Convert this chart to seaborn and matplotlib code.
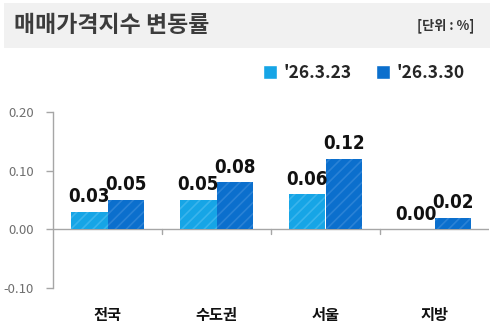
import matplotlib
matplotlib.use("Agg")
import matplotlib.pyplot as plt
import seaborn as sns
import pandas as pd
from matplotlib.patches import Rectangle

categories = ["전국", "수도권", "서울", "지방"]
series_names = ["'26.3.23", "'26.3.30"]
values_0323 = [0.03, 0.05, 0.06, 0.00]
values_0330 = [0.05, 0.08, 0.12, 0.02]
yticks = [-0.10, 0.00, 0.10, 0.20]
ytick_labels = ["-0.10", "0.00", "0.10", "0.20"]

df = pd.DataFrame({
    "region": categories * 2,
    "series": [series_names[0]] * 4 + [series_names[1]] * 4,
    "value": values_0323 + values_0330,
})

sns.set_theme(style="white")
plt.rcParams['font.family'] = ['Noto Sans CJK KR', 'DejaVu Sans']
plt.rcParams['hatch.linewidth'] = 1.2

W, H = 493, 328
fig = plt.figure(figsize=(W / 100, H / 100), dpi=100)

# header panel
fig.patches.append(Rectangle((4 / W, 1 - 48 / H), 486 / W, 45 / H,
                             transform=fig.transFigure, facecolor="#f1f1f1",
                             edgecolor="none", zorder=0))
fig.text(14 / W, 1 - 26 / H, "매매가격지수 변동률", fontsize=16.5, fontweight="bold",
         color="#3c3c3c", ha="left", va="center")
fig.text(474 / W, 1 - 26 / H, "[단위 : %]", fontsize=9.5, fontweight="bold",
         color="#333333", ha="right", va="center")

ax = fig.add_axes([53 / W, 1 - 288 / H, 436 / W, 176 / H])
colors = ["#16a5e6", "#0b6fcd"]
hatch_colors = ["#3ab4ec", "#2a82d6"]
sns.barplot(data=df, x="region", y="value", hue="series", palette=colors,
            width=0.675, ax=ax, legend=True, saturation=1)

for i, cont in enumerate(ax.containers):
    for p in cont:
        p.set_edgecolor(hatch_colors[i])
        p.set_linewidth(0)
        p.set_hatch("///")
    ax.bar_label(cont, fmt="%.2f", padding=4, fontsize=13.5, fontweight="bold",
                 color="#111111", family=['DejaVu Sans'], fontstretch="condensed")

ax.set_ylim(-0.10, 0.20)
ax.set_xlim(-0.5, 3.5)
ax.set_yticks(yticks)
ax.set_yticklabels(ytick_labels)
ax.set_xlabel("")
ax.set_ylabel("")

for s in ["top", "right", "bottom"]:
    ax.spines[s].set_visible(False)
ax.spines["left"].set_color("#a6a6a6")
ax.spines["left"].set_linewidth(1)
ax.axhline(0, color="#a6a6a6", lw=1, zorder=0.5)

ax.tick_params(axis="y", which="both", left=True, length=5, width=1, color="#a6a6a6",
               labelsize=9.5, labelcolor="#6f6f6f", pad=9)
ax.tick_params(axis="x", which="both", bottom=False, labelsize=11, labelcolor="#111111", pad=8)
for t in ax.get_xticklabels():
    t.set_fontweight("bold")

# category boundary ticks on zero line
for b in [0.5, 1.5, 2.5]:
    ax.plot([b, b], [0, -0.008], color="#a6a6a6", lw=1, clip_on=False)

handles, labels = ax.get_legend_handles_labels()
ax.legend_.remove()
leg = fig.legend(handles, labels, loc="center", bbox_to_anchor=(364 / W, 1 - 73 / H),
                 ncol=2, frameon=False, handlelength=0.8, handleheight=0.8,
                 handletextpad=0.4, columnspacing=1.4,
                 prop={"size": 12.5, "weight": "bold", "family": ["Noto Sans CJK KR", "DejaVu Sans"]})

fig.savefig("out.png", dpi=100)
